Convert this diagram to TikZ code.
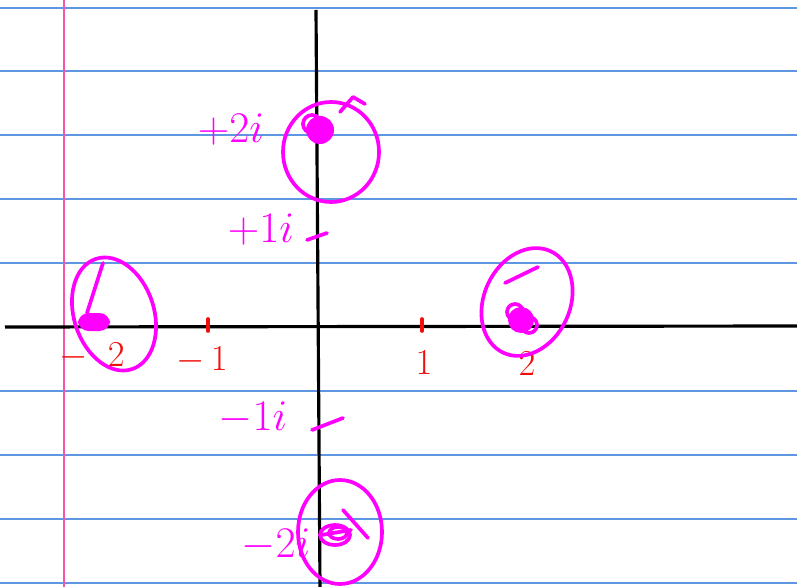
\documentclass[tikz,border=0pt]{standalone}
\usepackage{amsmath}
\usetikzlibrary{positioning,calc}
\definecolor{ruleblue}{RGB}{95,150,225}
\definecolor{marginpink}{RGB}{245,85,170}
\definecolor{ink}{RGB}{255,0,255}
\definecolor{redink}{RGB}{240,15,10}

\begin{document}
\begin{tikzpicture}[x=0.02cm, y=-0.02cm,
 rule/.style={ruleblue, line width=0.6pt},
 axis/.style={black, line width=1.8pt},
 pen/.style={ink, line width=2.1pt, line cap=round, line join=round},
 redpen/.style={redink, line width=2.1pt, line cap=round},
 lbl/.style={font=\huge, inner sep=0pt},
 ilbl/.style={font=\fontsize{26}{30}\selectfont, inner sep=0pt, ink}]
\useasboundingbox (0,0) rectangle (797,587);
\fill[white] (0,0) rectangle (797,587);
% lignes du cahier
\foreach \y in {8,71,135,199,263,391,455,519,583}
  \draw[rule] (0,\y)--(797,\y);
\draw[marginpink, line width=0.9pt] (64,0)--(64,587);
% axes
\coordinate (xl) at (5,327);
\coordinate (xr) at (797,326);
\coordinate (yt) at (316,10);
\coordinate (yb) at (320,587);
\draw[axis] (xl)--(xr);
\draw[axis] (yt)--(yb);
% graduations reelles
\foreach \x in {208,422}
  \draw[redpen] (\x,319)--(\x,331);
\node[lbl, redink] (lm2) at (92,356) {$-\;\;2$};
\node[lbl, redink] (lm1) at (202,360) {$-\,1$};
\node[lbl, redink] (lp1) at (424,363) {$1$};
\node[lbl, redink] (lp2) at (527,364) {$2$};
% graduations imaginaires
\draw[pen] (307,240)--(327,233);
\draw[pen] (312,430)--(343,418);
\node[ilbl] (ip2) at (231,130) {$+2i$};
\node[ilbl] (ip1) at (261,230) {$+1i$};
\node[ilbl] (im1) at (253,418) {$-1i$};
\node[ilbl] (im2) at (276,545) {$-2i$};
% poles entoures
\coordinate (p2i) at (320,130);
\coordinate (pm2) at (94,322);
\coordinate (p2) at (521,320);
\coordinate (pm2i) at (335,535);
\draw[pen] (331,152) ellipse [x radius=48, y radius=50];
\draw[pen] (340,112)--(353,97)--(365,104);
\draw[pen, rotate around={18:(114,314)}] (114,314) ellipse [x radius=40, y radius=58];
\draw[pen] (103,263)--(87,313);
\draw[pen, rotate around={-25:(527,302)}] (527,302) ellipse [x radius=43, y radius=56];
\draw[pen] (505,283)--(538,267);
\draw[pen] (340,532) ellipse [x radius=42, y radius=52];
\draw[pen] (343,510)--(368,538);
% points
\fill[ink] (p2i) circle (14);
\draw[pen] (p2i) ++(-8,-6) circle (9);
\fill[ink, rounded corners=6] ($(pm2)+(-16,-9)$) rectangle ($(pm2)+(16,9)$);
\fill[ink] (p2) circle (13);
\draw[pen] (p2) ++(-6,-8) circle (8);
\draw[pen] (p2) ++(8,5) circle (8);
\draw[pen] (pm2i) ellipse [x radius=15, y radius=10];
\draw[pen] (pm2i) ++(3,-2) ellipse [x radius=9, y radius=6];
\draw[pen] (pm2i) ++(-14,0)--++(30,-5);
\end{tikzpicture}
\end{document}
